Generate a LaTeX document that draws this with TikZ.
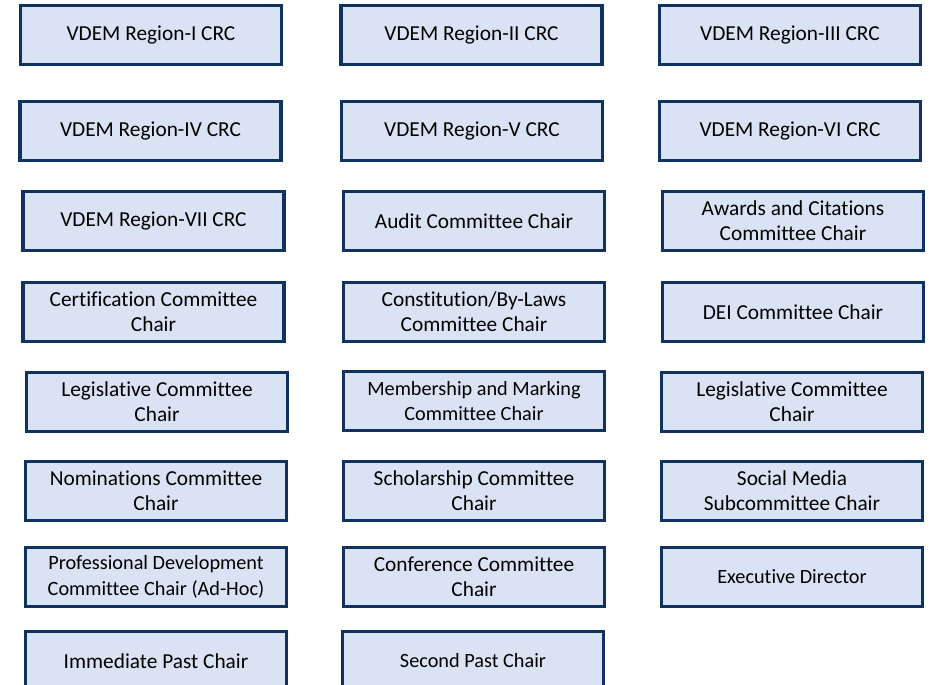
\documentclass[tikz,border=0pt]{standalone}
\usepackage{fontspec}
\setmainfont[Ligatures=NoCommon]{Carlito}
\definecolor{boxfill}{HTML}{DAE3F3}
\definecolor{boxline}{HTML}{10325F}
\tikzset{
  chair/.style={draw=boxline, fill=boxfill, line width=2.6pt,
    minimum width=196pt, minimum height=44pt, inner sep=0pt,
    align=center, font=\fontsize{16}{19}\selectfont},
  smallchair/.style={chair, font=\fontsize{15.2}{19}\selectfont},
}

\begin{document}
\begin{tikzpicture}[x=0.75pt,y=-0.75pt]
	\useasboundingbox (0,0) rectangle (933,685);
	\clip (0,0) rectangle (933,685);
	
	% regional chairs
	\node[chair] (r1) at (151,35) {VDEM Region-I CRC};
	\node[chair] (r2) at (471.5,35) {VDEM Region-II CRC};
	\node[chair] (r3) at (790,35) {VDEM Region-III CRC};
	\node[chair] (r4) at (150.5,131) {VDEM Region-IV CRC};
	\node[chair] (r5) at (472,131) {VDEM Region-V CRC};
	\node[chair] (r6) at (790,131) {VDEM Region-VI CRC};
	\node[chair] (r7) at (153.5,221) {VDEM Region-VII CRC};
	
	% committee chairs
	\node[chair] (aud) at (474,221) {Audit Committee Chair};
	\node[chair] (awd) at (793,221) {Awards and Citations\\Committee Chair};
	\node[chair] (cert) at (153.5,312) {Certification Committee\\Chair};
	\node[chair] (cons) at (474,312) {Constitution/By-Laws\\Committee Chair};
	\node[chair] (dei) at (793,312) {DEI Committee Chair};
	\node[chair] (leg1) at (157,402) {Legislative Committee\\Chair};
	\node[smallchair] (mem) at (474,401) {Membership and Marking\\Committee Chair};
	\node[chair] (leg2) at (792,402) {Legislative Committee\\Chair};
	\node[chair] (nom) at (156,491) {Nominations Committee\\Chair};
	\node[chair] (sch) at (474,491) {Scholarship Committee\\Chair};
	\node[chair] (soc) at (792,491) {Social Media\\Subcommittee Chair};
	\node[smallchair] (pd) at (156,577) {Professional Development\\Committee Chair (Ad-Hoc)};
	\node[chair] (conf) at (474,577) {Conference Committee\\Chair};
	\node[smallchair] (exe) at (792,577) {Executive Director};
	
	% past chairs
	\node[chair] (ip) at (156,661) {Immediate Past Chair};
	\node[smallchair] (sp) at (473,661) {Second Past Chair};
\end{tikzpicture}
\end{document}
